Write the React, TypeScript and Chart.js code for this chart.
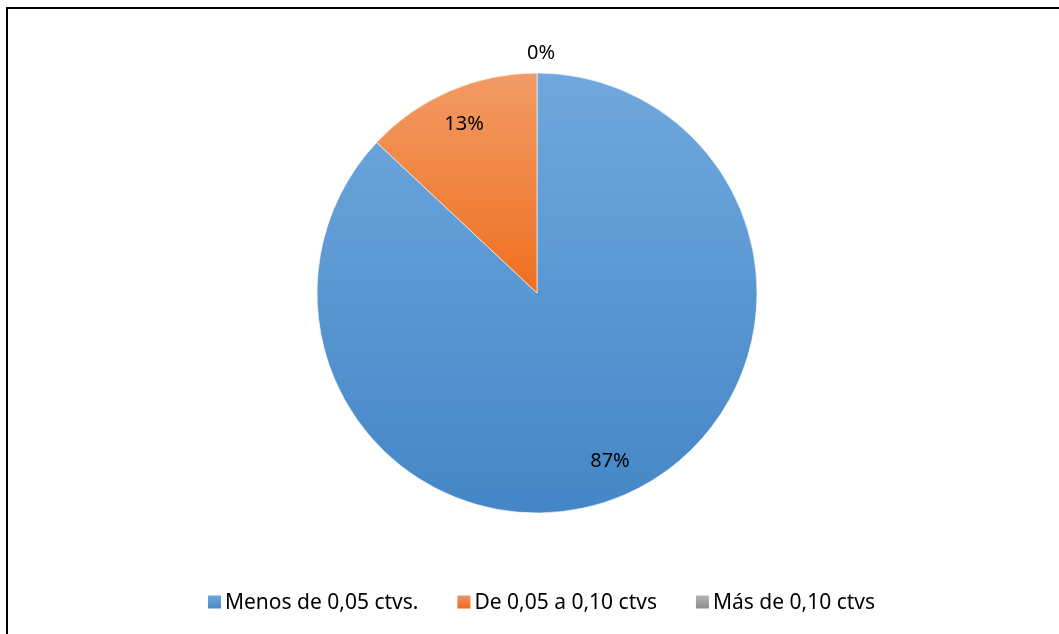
import React, { useEffect, useRef } from "react";
import { Chart, registerables } from "chart.js";

Chart.register(...registerables);

const categories = ["Menos de 0,05 ctvs.", "De 0,05 a 0,10 ctvs", "Más de 0,10 ctvs"];
const values = [87, 13, 0];
const percentLabels = ["87%", "13%", "0%"];

const gradStops: [string, string][] = [
  ["#70a8dd", "#4486c6"],
  ["#f29b66", "#ef6f1f"],
  ["#b0b0b0", "#909090"],
];
const legendColors: [string, string][] = [
  ["#6ea6dc", "#4a8bca"],
  ["#f29460", "#ec6d1f"],
  ["#b4b4b4", "#8e8e8e"],
];

const FONT = "'Noto Sans', 'Open Sans', sans-serif";

export default function App() {
  const ref = useRef<HTMLCanvasElement | null>(null);

  useEffect(() => {
    if (!ref.current) return;
    const labelPlugin = {
      id: "pctLabels",
      afterDatasetsDraw(chart: any) {
        const ctx = chart.ctx;
        const meta = chart.getDatasetMeta(0);
        ctx.save();
        ctx.fillStyle = "#000";
        ctx.font = `20px ${FONT}`;
        ctx.textAlign = "center";
        ctx.textBaseline = "middle";
        meta.data.forEach((arc: any, i: number) => {
          const { x, y, startAngle, endAngle, outerRadius } = arc.getProps(
            ["x", "y", "startAngle", "endAngle", "outerRadius"],
            true
          );
          const mid = (startAngle + endAngle) / 2;
          const r = values[i] === 0 ? outerRadius + 20 : outerRadius * 0.835;
          const dx = values[i] === 0 ? 4 : 0;
          ctx.fillText(percentLabels[i], x + Math.cos(mid) * r + dx, y + Math.sin(mid) * r);
        });
        ctx.restore();
      },
      afterDraw(chart: any) {
        const ctx = chart.ctx;
        ctx.save();
        ctx.font = `21px ${FONT}`;
        ctx.textBaseline = "middle";
        const box = 13;
        const gapBoxText = 4;
        const gapItems = 39;
        const widths = categories.map((c) => ctx.measureText(c).width);
        const total =
          widths.reduce((a, b) => a + b, 0) + categories.length * (box + gapBoxText) + gapItems * (categories.length - 1);
        let x = 541.5 - total / 2;
        const y = 602;
        categories.forEach((c, i) => {
          const g = ctx.createLinearGradient(0, y - box / 2, 0, y + box / 2);
          g.addColorStop(0, legendColors[i][0]);
          g.addColorStop(1, legendColors[i][1]);
          ctx.fillStyle = g;
          ctx.fillRect(x, y - box / 2, box, box);
          x += box + gapBoxText;
          ctx.fillStyle = "#000";
          ctx.fillText(c, x, y + 1);
          x += widths[i] + gapItems;
        });
        ctx.restore();
      },
    };

    const chart = new Chart(ref.current, {
      type: "pie",
      data: {
        labels: categories,
        datasets: [
          {
            data: values,
            radius: 220,
            borderWidth: 1,
            borderColor: "rgba(255,255,255,0.6)",
            backgroundColor: (c: any) => {
              const ch = c.chart;
              const area = ch.chartArea;
              if (!area) return gradStops[c.dataIndex][1];
              const cy = (area.top + area.bottom) / 2;
              const R = 220;
              const top = cy - R;
              const bottom = c.dataIndex === 1 ? cy : cy + R;
              const g = ch.ctx.createLinearGradient(0, top, 0, bottom);
              g.addColorStop(0, gradStops[c.dataIndex][0]);
              g.addColorStop(1, gradStops[c.dataIndex][1]);
              return g;
            },
          } as any,
        ],
      },
      options: {
        animation: false,
        responsive: false,
        maintainAspectRatio: false,
        layout: { padding: { left: 15, right: 0, top: 20, bottom: 68 } },
        plugins: {
          legend: { display: false },
          tooltip: { enabled: false },
        },
      },
      plugins: [labelPlugin],
    });
    return () => chart.destroy();
  }, []);

  return (
    <div style={{ position: "absolute", left: 0, top: 0, width: 1059, height: 634, overflow: "hidden", background: "#fff" }}>
      <div
        style={{
          position: "absolute",
          left: 6,
          top: 7,
          width: 1100,
          height: 700,
          borderLeft: "2px solid #000",
          borderTop: "2px solid #000",
          boxSizing: "border-box",
        }}
      />
      <canvas ref={ref} width={1059} height={634} style={{ position: "absolute", left: 0, top: 0, display: "block" }} />
    </div>
  );
}
